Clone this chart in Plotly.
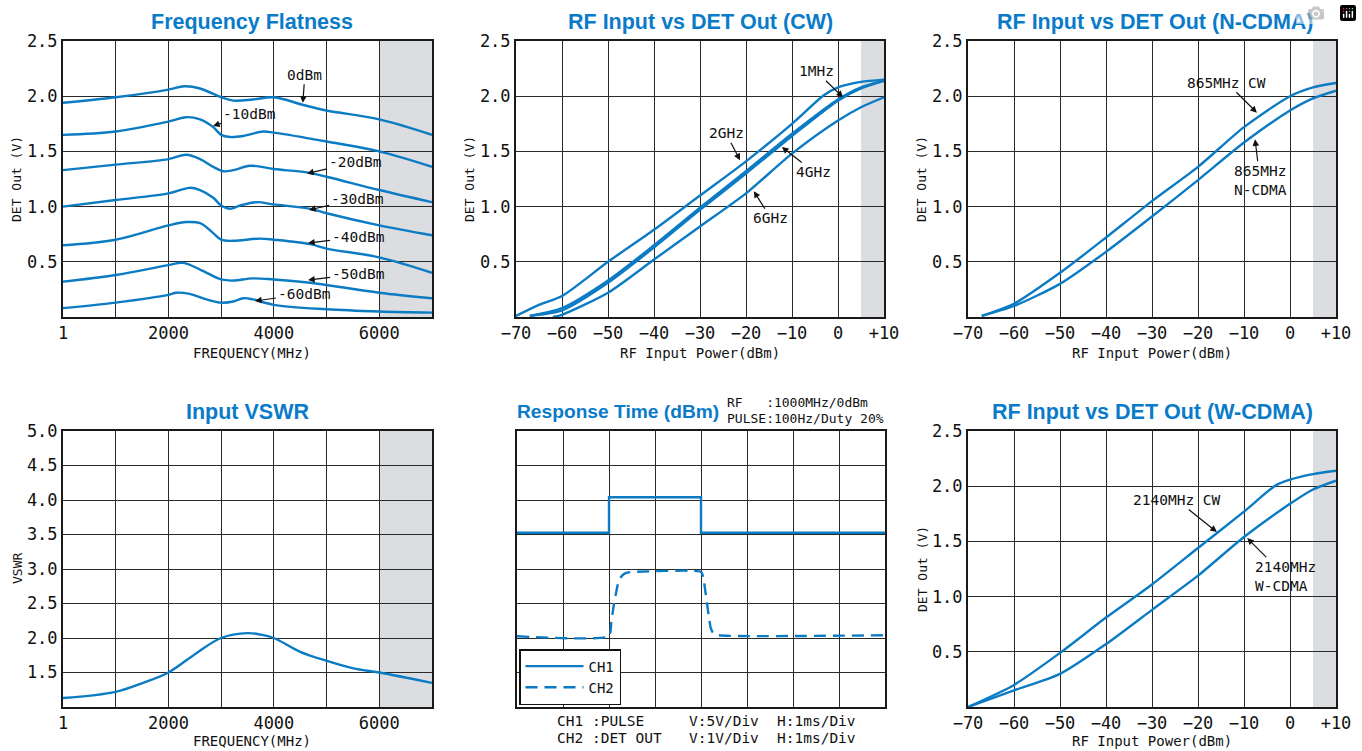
import plotly.graph_objects as go

W, H = 1362, 751
BLUE = "#0b7bc4"
TITLE_BLUE = "#0a7bc9"
GRID = "#2a2a2a"
SHADE = "#dcdde0"
MONO = "DejaVu Sans Mono"
TITLE_FONT = "Liberation Sans, Arial, sans-serif"

# ---------------- data ----------------
# Frequency Flatness (MHz vs V)
ff_0_x = [0, 1000, 2000, 2300, 2600, 3000, 3230, 3600, 4000, 4560, 5000, 6000, 7000]
ff_0_y = [1.94, 1.99, 2.06, 2.09, 2.07, 1.99, 1.96, 1.97, 1.99, 1.92, 1.87, 1.79, 1.65]
ff_10_x = [0, 1000, 2000, 2340, 2600, 2850, 3000, 3170, 3420, 3800, 4000, 5000, 6000, 7000]
ff_10_y = [1.65, 1.68, 1.77, 1.81, 1.79, 1.72, 1.65, 1.63, 1.64, 1.68, 1.67, 1.59, 1.50, 1.36]
ff_20_x = [0, 1000, 2000, 2340, 2600, 2850, 3040, 3230, 3550, 4000, 4620, 5000, 6000, 7000]
ff_20_y = [1.33, 1.38, 1.43, 1.47, 1.43, 1.36, 1.32, 1.33, 1.37, 1.34, 1.31, 1.27, 1.15, 1.04]
ff_30_x = [0, 1000, 2000, 2400, 2600, 2850, 3000, 3170, 3360, 3670, 4000, 4690, 5000, 6000, 7000]
ff_30_y = [1.00, 1.06, 1.12, 1.17, 1.15, 1.08, 1.01, 0.98, 1.01, 1.04, 1.02, 0.98, 0.94, 0.83, 0.74]
ff_40_x = [0, 1000, 2000, 2340, 2600, 2850, 3000, 3230, 3740, 4000, 4690, 5000, 6000, 7000]
ff_40_y = [0.65, 0.70, 0.83, 0.86, 0.85, 0.76, 0.70, 0.69, 0.71, 0.70, 0.66, 0.62, 0.54, 0.40]
ff_50_x = [0, 1000, 2000, 2280, 2600, 3000, 3230, 3600, 4000, 4690, 5000, 6000, 7000]
ff_50_y = [0.32, 0.38, 0.47, 0.49, 0.43, 0.34, 0.33, 0.35, 0.34, 0.31, 0.29, 0.22, 0.17]
ff_60_x = [0, 1000, 2000, 2150, 2400, 2720, 3000, 3230, 3420, 3600, 4000, 5000, 6000, 7000]
ff_60_y = [0.08, 0.13, 0.20, 0.22, 0.21, 0.16, 0.13, 0.14, 0.17, 0.16, 0.11, 0.07, 0.05, 0.04]

# RF Input vs DET Out (CW)
cw_2g_x = [-70, -65, -60, -50, -40, -30, -20, -10, -3, 0, 5, 10]
cw_2g_y = [0.01, 0.11, 0.19, 0.50, 0.79, 1.10, 1.41, 1.75, 2.01, 2.08, 2.13, 2.15]
cw_1m_x = [-67, -60, -50, -40, -30, -20, -10, 0, 5, 10]
cw_1m_y = [0.01, 0.08, 0.33, 0.65, 0.99, 1.32, 1.66, 1.97, 2.08, 2.14]
cw_4g_x = [-67, -60, -50, -40, -30, -20, -10, 0, 5, 10]
cw_4g_y = [0.01, 0.06, 0.31, 0.63, 0.97, 1.30, 1.64, 1.96, 2.07, 2.14]
cw_6g_x = [-62, -60, -50, -40, -30, -20, -10, 0, 5, 10]
cw_6g_y = [0.00, 0.02, 0.22, 0.52, 0.82, 1.12, 1.48, 1.78, 1.90, 1.99]

# RF Input vs DET Out (N-CDMA)
nc_cw_x = [-67, -60, -50, -40, -30, -20, -10, 0, 5, 10]
nc_cw_y = [0.01, 0.12, 0.40, 0.72, 1.05, 1.36, 1.72, 2.00, 2.08, 2.12]
nc_mod_x = [-67, -60, -50, -40, -30, -20, -10, 0, 5, 10]
nc_mod_y = [0.01, 0.10, 0.30, 0.59, 0.91, 1.24, 1.58, 1.87, 1.98, 2.05]

# Input VSWR
vswr_x = [0, 1000, 1520, 2000, 2530, 3000, 3500, 3740, 4000, 4500, 5000, 5510, 6000, 7000]
vswr_y = [1.13, 1.22, 1.35, 1.50, 1.78, 2.00, 2.07, 2.05, 2.00, 1.80, 1.67, 1.56, 1.50, 1.35]

# Response time (divisions)
ch1_t = [0, 2, 2, 4, 4, 8]
ch1_v = [5.05, 5.05, 6.08, 6.08, 5.05, 5.05]
ch2_t = [0, 2.0, 2.05, 2.10, 2.16, 2.21, 2.28, 2.36, 2.46, 2.6, 4.0, 4.05, 4.09, 4.13, 4.17, 4.21, 4.26, 4.38, 8]
ch2_v = [2.05, 2.05, 2.45, 2.92, 3.35, 3.65, 3.80, 3.88, 3.91, 3.92, 3.92, 3.75, 3.40, 3.0, 2.63, 2.30, 2.15, 2.08, 2.08]

# RF Input vs DET Out (W-CDMA)
wc_cw_x = [-70, -60, -50, -40, -30, -20, -10, -3, 0, 5, 10]
wc_cw_y = [0.0, 0.20, 0.49, 0.81, 1.11, 1.44, 1.77, 2.01, 2.06, 2.11, 2.14]
wc_mod_x = [-70, -60, -50, -40, -30, -20, -10, 0, 5, 10]
wc_mod_y = [0.0, 0.15, 0.30, 0.57, 0.88, 1.19, 1.54, 1.84, 1.97, 2.05]

# tick labels
freq_tickvals = [0, 1000, 2000, 3000, 4000, 5000, 6000, 7000]
freq_ticktext = ["1", "", "2000", "", "4000", "", "6000", ""]
pwr_tickvals = [-70, -60, -50, -40, -30, -20, -10, 0, 10]
pwr_ticktext = ["\u221270", "\u221260", "\u221250", "\u221240", "\u221230", "\u221220", "\u221210", "0", "+10"]
det_tickvals = [0, 0.5, 1.0, 1.5, 2.0, 2.5]
det_ticktext = ["", "0.5", "1.0", "1.5", "2.0", "2.5"]
vswr_tickvals = [1.0, 1.5, 2.0, 2.5, 3.0, 3.5, 4.0, 4.5, 5.0]
vswr_ticktext = ["", "1.5", "2.0", "2.5", "3.0", "3.5", "4.0", "4.5", "5.0"]
div_vals = [0, 1, 2, 3, 4, 5, 6, 7, 8]

titles = ["Frequency Flatness", "RF Input vs DET Out (CW)", "RF Input vs DET Out (N-CDMA)",
          "Input VSWR", "Response Time (dBm)", "RF Input vs DET Out (W-CDMA)"]

# ---------------- layout geometry (pixels) ----------------
boxes = {1: (63, 41, 432, 317), 2: (516, 41, 884, 317), 3: (968, 41, 1336, 317),
         4: (63, 431, 432, 707), 5: (517, 431, 885, 707), 6: (968, 431, 1336, 707)}


def px(x):
    return x / W


def py(y):
    return 1 - y / H


fig = go.Figure()


def line(k, x, y, name=None, dash="solid", shape="spline", legend=False, smoothing=0.7):
    sfx = "" if k == 1 else str(k)
    fig.add_trace(go.Scatter(x=x, y=y, mode="lines", name=name, showlegend=legend,
                             line=dict(color=BLUE, width=2.4, dash=dash, shape=shape,
                                       smoothing=smoothing if shape == "spline" else None),
                             xaxis="x" + sfx, yaxis="y" + sfx, hoverinfo="skip"))


for xs, ys in [(ff_0_x, ff_0_y), (ff_10_x, ff_10_y), (ff_20_x, ff_20_y), (ff_30_x, ff_30_y),
               (ff_40_x, ff_40_y), (ff_50_x, ff_50_y), (ff_60_x, ff_60_y)]:
    line(1, xs, ys, smoothing=1.0)
for xs, ys in [(cw_2g_x, cw_2g_y), (cw_1m_x, cw_1m_y), (cw_4g_x, cw_4g_y), (cw_6g_x, cw_6g_y)]:
    line(2, xs, ys)
for xs, ys in [(nc_cw_x, nc_cw_y), (nc_mod_x, nc_mod_y)]:
    line(3, xs, ys)
line(4, vswr_x, vswr_y, smoothing=1.0)
line(5, ch1_t, ch1_v, name="CH1", shape="linear", legend=True)
line(5, ch2_t, ch2_v, name="CH2", dash="12px,7px", legend=True, smoothing=0.5)
for xs, ys in [(wc_cw_x, wc_cw_y), (wc_mod_x, wc_mod_y)]:
    line(6, xs, ys)

axis_common = dict(showline=True, mirror=True, linecolor="#1a1a1a", linewidth=2,
                   showgrid=True, gridcolor=GRID, gridwidth=1.3, zeroline=False, ticks="",
                   tickfont=dict(family=MONO, size=17, color="#111"), fixedrange=True,
                   tickmode="array", automargin=False)

layout_axes = {}
for k, (l, t, r, b) in boxes.items():
    sfx = "" if k == 1 else str(k)
    xa = dict(axis_common, domain=[px(l), px(r)], anchor="y" + sfx)
    ya = dict(axis_common, domain=[py(b), py(t)], anchor="x" + sfx)
    if k in (1, 4):
        xa.update(range=[0, 7000], tickvals=freq_tickvals, ticktext=freq_ticktext)
    elif k in (2, 3, 6):
        xa.update(range=[-70, 10], tickvals=pwr_tickvals, ticktext=pwr_ticktext)
    else:
        xa.update(range=[0, 8], tickvals=div_vals, showticklabels=False)
    if k == 4:
        ya.update(range=[1.0, 5.0], tickvals=vswr_tickvals, ticktext=vswr_ticktext)
    elif k == 5:
        ya.update(range=[0, 8], tickvals=div_vals, showticklabels=False)
    else:
        ya.update(range=[0, 2.5], tickvals=det_tickvals, ticktext=det_ticktext)
    layout_axes["xaxis" + sfx] = xa
    layout_axes["yaxis" + sfx] = ya

fig.update_layout(**layout_axes)

# shaded out-of-spec regions
shade_ranges = {1: (6000, 7000), 2: (5, 10), 3: (5, 10), 4: (6000, 7000), 6: (5, 10)}
for k, (x0, x1) in shade_ranges.items():
    sfx = "" if k == 1 else str(k)
    fig.add_shape(type="rect", xref="x" + sfx, yref="y" + sfx + " domain", x0=x0, x1=x1, y0=0, y1=1,
                  fillcolor=SHADE, line_width=0, layer="below")

ann = []
# titles
title_pos = [(252, 22), (700, 22), (1155, 22), (247, 412), (618, 411), (1152, 412)]
title_size = [21.5, 21.5, 21.5, 21.5, 19.2, 21.5]
for txt, (x, y), sz in zip(titles, title_pos, title_size):
    ann.append(dict(text=txt, x=px(x), y=py(y), xref="paper", yref="paper", showarrow=False,
                    xanchor="center", yanchor="middle",
                    font=dict(family=TITLE_FONT, size=sz, color=TITLE_BLUE, weight="bold")))

# axis titles
def atext(txt, x, y, size=14, angle=0, xanchor="center"):
    ann.append(dict(text=txt, x=px(x), y=py(y), xref="paper", yref="paper", showarrow=False,
                    xanchor=xanchor, yanchor="middle", textangle=angle,
                    font=dict(family=MONO, size=size, color="#111")))

atext("DET Out (V)", 17, 179, 13, -90)
atext("DET Out (V)", 470, 179, 13, -90)
atext("DET Out (V)", 922, 179, 13, -90)
atext("VSWR", 17, 569, 13, -90)
atext("DET Out (V)", 922, 569, 13, -90)
atext("FREQUENCY(MHz)", 252, 353)
atext("RF Input Power(dBm)", 700, 353)
atext("RF Input Power(dBm)", 1152, 353)
atext("FREQUENCY(MHz)", 252, 741)
atext("RF Input Power(dBm)", 1152, 741)

# response time notes
NB = "\u00a0"
atext("RF" + NB * 3 + ":1000MHz/0dBm", 725, 402, 13, 0, "left")
atext("PULSE:100Hz/Duty" + NB + "20%", 725, 418, 13, 0, "left")
atext("CH1" + NB + ":PULSE", 555, 721, 14.5, 0, "left")
atext("CH2" + NB + ":DET" + NB + "OUT", 555, 738, 14.5, 0, "left")
atext("V:5V/Div", 687, 721, 14.5, 0, "left")
atext("V:1V/Div", 687, 738, 14.5, 0, "left")
atext("H:1ms/Div", 775, 721, 14.5, 0, "left")
atext("H:1ms/Div", 775, 738, 14.5, 0, "left")

# curve call-outs: (panel, text, tip x, tip y, ax, ay)
callouts = [
    (1, "0dBm", 4550, 1.94, 2, -28),
    (1, "-10dBm", 2846, 1.73, 36, -12),
    (1, "-20dBm", 4630, 1.30, 48, -11),
    (1, "-30dBm", 4668, 0.97, 48, -11),
    (1, "-40dBm", 4649, 0.67, 50, -6),
    (1, "-50dBm", 4649, 0.335, 50, -6),
    (1, "-60dBm", 3643, 0.145, 49, -7),
    (2, "1MHz", 1.1, 1.99, -27, -26),
    (2, "2GHz", -21.3, 1.42, -14, -27),
    (2, "4GHz", -12.2, 1.54, 32, 25),
    (2, "6GHz", -18.3, 1.14, 17, 27),
    (3, "865MHz" + NB + "CW", -7.2, 1.85, -30, -30),
    (3, "865MHz<br>N-CDMA", -7.6, 1.61, 5, 41),
    (6, "2140MHz" + NB + "CW", -15.9, 1.585, -40, -32),
    (6, "2140MHz<br>W-CDMA", -9.3, 1.53, 38, 38),
]
for k, txt, x, y, ax, ay in callouts:
    sfx = "" if k == 1 else str(k)
    ann.append(dict(text=txt, x=x, y=y, xref="x" + sfx, yref="y" + sfx, ax=ax, ay=ay,
                    showarrow=True, arrowhead=2, arrowsize=1.1, arrowwidth=1.2, arrowcolor="#111",
                    align="left", font=dict(family=MONO, size=14.5, color="#111")))

fig.update_layout(
    annotations=ann,
    width=W, height=H, margin=dict(l=0, r=0, t=0, b=0, autoexpand=False),
    paper_bgcolor="white", plot_bgcolor="white",
    legend=dict(x=px(519), y=py(705), xanchor="left", yanchor="bottom", bgcolor="white",
                bordercolor="#111", borderwidth=1.5, font=dict(family=MONO, size=14, color="#111"),
                itemwidth=58, tracegroupgap=0),
)

fig.write_html("out.html", post_script="document.body.style.margin='0';document.body.style.overflow='hidden';")
